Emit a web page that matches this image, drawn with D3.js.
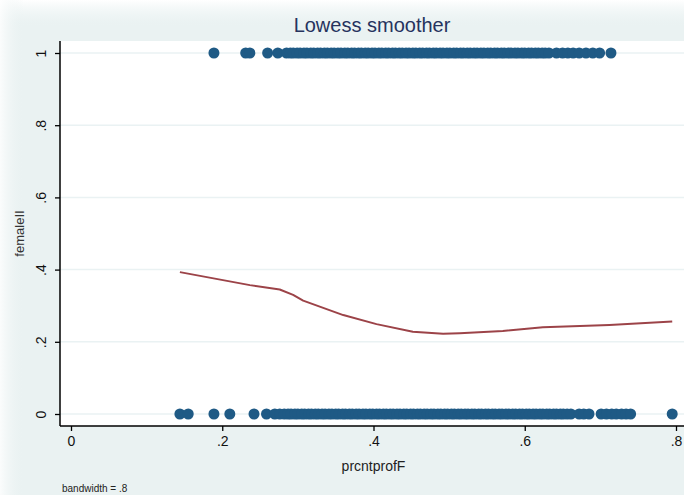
<!DOCTYPE html>
<html>
<head>
<meta charset="utf-8">
<script src="https://cdn.jsdelivr.net/npm/d3@7"></script>
<style>
  body { margin: 0; background: #eaf2f2; }
  svg { display: block; font-family: "Liberation Sans", Arial, sans-serif; }
</style>
</head>
<body>
<svg id="chart"></svg>
<script>
const width = 684, height = 495;

// x values of the observations with femaleII = 1
const femaleOneX = [0.189, 0.231, 0.2365, 0.260, 0.2735,
  0.285, 0.290, 0.294, 0.299, 0.303, 0.308, 0.312, 0.317, 0.321, 0.326, 0.330,
  0.335, 0.339, 0.344, 0.348, 0.353, 0.357, 0.362, 0.366, 0.371, 0.375, 0.380,
  0.384, 0.389, 0.393, 0.398, 0.402, 0.407, 0.411, 0.416, 0.420, 0.425, 0.429,
  0.434, 0.438, 0.443, 0.447, 0.452, 0.456, 0.461, 0.465, 0.470, 0.474, 0.479,
  0.483, 0.488, 0.492, 0.497, 0.501, 0.506, 0.510, 0.515, 0.519, 0.524, 0.528,
  0.533, 0.537, 0.542, 0.546, 0.551, 0.555, 0.560, 0.564, 0.569, 0.573, 0.578,
  0.582, 0.587, 0.591, 0.596, 0.600, 0.605, 0.609, 0.614, 0.618, 0.623, 0.627,
  0.632, 0.642, 0.650, 0.657, 0.664, 0.672, 0.681, 0.690, 0.699, 0.714];

// x values of the observations with femaleII = 0
const femaleZeroX = [0.144, 0.155, 0.189, 0.210, 0.242, 0.2585, 0.2695, 0.276, 0.282,
  0.287, 0.291, 0.296, 0.300, 0.305, 0.309, 0.314, 0.318, 0.323, 0.327, 0.332,
  0.336, 0.341, 0.345, 0.350, 0.354, 0.359, 0.363, 0.368, 0.372, 0.377, 0.381,
  0.386, 0.390, 0.395, 0.399, 0.404, 0.408, 0.413, 0.417, 0.422, 0.426, 0.431,
  0.435, 0.440, 0.444, 0.449, 0.453, 0.458, 0.462, 0.467, 0.471, 0.476, 0.480,
  0.485, 0.489, 0.494, 0.498, 0.503, 0.507, 0.512, 0.516, 0.521, 0.525, 0.530,
  0.534, 0.539, 0.543, 0.548, 0.552, 0.557, 0.561, 0.566, 0.570, 0.575, 0.579,
  0.584, 0.588, 0.593, 0.597, 0.602, 0.606, 0.611, 0.615, 0.620, 0.624, 0.629,
  0.633, 0.638, 0.642, 0.647, 0.651, 0.656, 0.661, 0.672, 0.678, 0.685,
  0.701, 0.708, 0.715, 0.721, 0.728, 0.734, 0.740, 0.795];

// lowess smooth
const lowessX = [0.144, 0.2365, 0.276, 0.2937, 0.307, 0.360, 0.404, 0.452, 0.492, 0.514, 0.571, 0.624, 0.712, 0.795];
const lowessY = [0.393, 0.357, 0.345, 0.330, 0.314, 0.274, 0.249, 0.228, 0.222, 0.224, 0.230, 0.240, 0.2465, 0.256];

const xTicks = [0, 0.2, 0.4, 0.6, 0.8];
const yTicks = [0, 0.2, 0.4, 0.6, 0.8, 1];
const fmt = d => d === 0 ? "0" : d === 1 ? "1" : String(d).replace(/^0/, "");

const svg = d3.select("#chart").attr("width", width).attr("height", height);

// background with a soft light edge at top and left
const defs = svg.append("defs");
const gTop = defs.append("linearGradient").attr("id", "gTop").attr("x1", 0).attr("y1", 0).attr("x2", 0).attr("y2", 1);
gTop.append("stop").attr("offset", 0).attr("stop-color", "#ffffff");
gTop.append("stop").attr("offset", 1).attr("stop-color", "#eaf2f2").attr("stop-opacity", 0);
const gLeft = defs.append("linearGradient").attr("id", "gLeft").attr("x1", 0).attr("y1", 0).attr("x2", 1).attr("y2", 0);
gLeft.append("stop").attr("offset", 0).attr("stop-color", "#ffffff").attr("stop-opacity", 0.8);
gLeft.append("stop").attr("offset", 1).attr("stop-color", "#eaf2f2").attr("stop-opacity", 0);

svg.append("rect").attr("width", width).attr("height", height).attr("fill", "#eaf2f2");
svg.append("rect").attr("width", width).attr("height", 28).attr("fill", "url(#gTop)");
svg.append("rect").attr("width", 24).attr("height", height).attr("fill", "url(#gLeft)");

const plot = { left: 60, top: 41, right: 684, bottom: 426 };

const x = d3.scaleLinear().domain([0, 0.8]).range([71, 676]);
const y = d3.scaleLinear().domain([0, 1]).range([414, 53]);

// plot region
svg.append("rect")
  .attr("x", plot.left).attr("y", plot.top)
  .attr("width", plot.right - plot.left).attr("height", plot.bottom - plot.top)
  .attr("fill", "#ffffff");

// gridlines
svg.append("g").selectAll("line")
  .data(yTicks)
  .join("line")
  .attr("x1", plot.left).attr("x2", plot.right)
  .attr("y1", d => y(d)).attr("y2", d => y(d))
  .attr("stroke", "#eaf2f3").attr("stroke-width", 1.5);

// points
const dots = svg.append("g").attr("fill", "#1f5a85");
dots.selectAll(".one")
  .data(femaleOneX)
  .join("circle")
  .attr("class", "one")
  .attr("cx", d => x(d)).attr("cy", y(1)).attr("r", 5.5);
dots.selectAll(".zero")
  .data(femaleZeroX)
  .join("circle")
  .attr("class", "zero")
  .attr("cx", d => x(d)).attr("cy", y(0)).attr("r", 5.5);

// lowess line
const line = d3.line()
  .x(d => x(d[0]))
  .y(d => y(d[1]));
svg.append("path")
  .attr("d", line(d3.zip(lowessX, lowessY)))
  .attr("fill", "none")
  .attr("stroke", "#9c4348")
  .attr("stroke-width", 2)
  .attr("stroke-linejoin", "round");

// y axis
const yAxis = svg.append("g")
  .attr("transform", `translate(${plot.left},0)`)
  .call(d3.axisLeft(y).tickValues(yTicks).tickSize(5).tickSizeOuter(0).tickFormat(fmt));
yAxis.select(".domain").attr("d", `M0,${plot.top}V${plot.bottom}`).attr("stroke", "#000").attr("stroke-width", 1.5);
yAxis.selectAll(".tick line").attr("stroke", "#000").attr("stroke-width", 1.3);
yAxis.selectAll(".tick text")
  .attr("x", 0).attr("dy", null)
  .attr("transform", "translate(-14,0) rotate(-90)")
  .attr("text-anchor", "middle")
  .attr("font-size", 14).attr("fill", "#111")
  .attr("font-family", "'Liberation Sans', Arial, sans-serif");

// x axis
const xAxis = svg.append("g")
  .attr("transform", `translate(0,${plot.bottom})`)
  .call(d3.axisBottom(x).tickValues(xTicks).tickSize(5).tickSizeOuter(0).tickFormat(fmt));
xAxis.select(".domain").attr("d", `M${plot.left},0H${plot.right}`).attr("stroke", "#000").attr("stroke-width", 1.5);
xAxis.selectAll(".tick line").attr("stroke", "#000").attr("stroke-width", 1.3);
xAxis.selectAll(".tick text")
  .attr("y", 10)
  .attr("font-size", 14).attr("fill", "#111")
  .attr("font-family", "'Liberation Sans', Arial, sans-serif");

// titles
svg.append("text")
  .attr("x", 372).attr("y", 32)
  .attr("text-anchor", "middle")
  .attr("font-size", 20).attr("fill", "#26335e")
  .text("Lowess smoother");

svg.append("text")
  .attr("transform", `translate(24,${(y(0) + y(1)) / 2}) rotate(-90)`)
  .attr("text-anchor", "middle")
  .attr("font-size", 13).attr("fill", "#333")
  .text("femaleII");

svg.append("text")
  .attr("x", x(0.4)).attr("y", 471)
  .attr("text-anchor", "middle")
  .attr("font-size", 14).attr("fill", "#222")
  .text("prcntprofF");

svg.append("text")
  .attr("x", 62).attr("y", 492)
  .attr("font-size", 10).attr("fill", "#222")
  .text("bandwidth = .8");
</script>
</body>
</html>
